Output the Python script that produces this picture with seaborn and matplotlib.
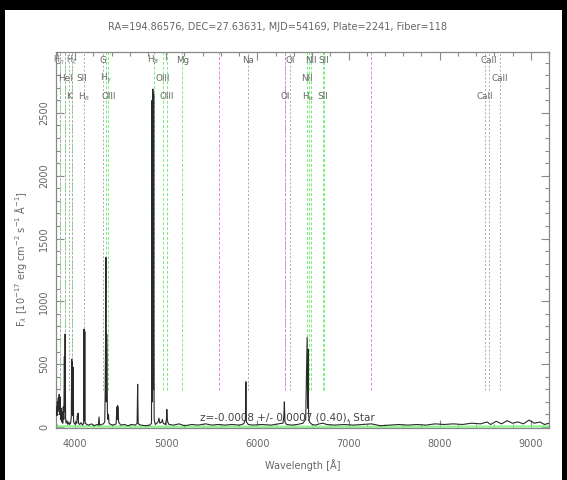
import matplotlib
matplotlib.use("Agg")
import matplotlib.pyplot as plt
import matplotlib.patches as mpatches
from matplotlib.ticker import MultipleLocator
import seaborn as sns
import pandas as pd

# ---------------- data ----------------
wave = [3790, 3795, 3800, 3805, 3810, 3815, 3820, 3825, 3830, 3835, 3840, 3846, 3852, 3858,
        3864, 3870, 3876, 3882, 3886, 3890, 3895, 3900, 3910, 3920, 3930, 3940, 3950, 3958,
        3962, 3966, 3970, 3974, 3978, 3983, 3992, 4000, 4010, 4018, 4024, 4028, 4032, 4037,
        4050, 4065, 4080, 4094, 4098, 4102, 4106, 4110, 4130, 4150, 4180, 4210, 4240, 4255,
        4262, 4268, 4290, 4310, 4325, 4330, 4334, 4338, 4342, 4346, 4350, 4354, 4360, 4366,
        4372, 4390, 4420, 4450, 4458, 4463, 4467, 4472, 4477, 4500, 4540, 4580, 4620, 4660,
        4680, 4686, 4692, 4720, 4780, 4820, 4838, 4844, 4849, 4853, 4858, 4862, 4867, 4880,
        4910, 4920, 4930, 4950, 4958, 4966, 4990, 5002, 5006, 5011, 5016, 5030, 5080, 5140,
        5200, 5280, 5350, 5430, 5500, 5570, 5650, 5720, 5800, 5850, 5868, 5874, 5880, 5900,
        5950, 6050, 6150, 6230, 6280, 6290, 6296, 6302, 6320, 6380, 6440, 6500, 6530, 6546,
        6551, 6556, 6562, 6570, 6600, 6640, 6680, 6720, 6760, 6850, 6950, 7050, 7150, 7250,
        7350, 7450, 7550, 7650, 7750, 7850, 7950, 8050, 8150, 8250, 8350, 8450, 8520, 8560,
        8620, 8680, 8740, 8800, 8860, 8920, 8980, 9040, 9100, 9150, 9200]
flux = [110, 160, 90, 200, 120, 230, 140, 260, 100, 240, 60, 150, 40, 120,
        30, 160, 60, 560, 120, 740, 80, 30, 50, 20, 40, 20, 30, 80,
        540, 100, 520, 90, 476, 40, 30, 20, 40, 30, 90, 60, 110, 30,
        20, 35, 15, 30, 780, 50, 760, 30, 20, 15, 25, 10, 20, 15,
        80, 15, 20, 25, 40, 300, 700, 1350, 200, 740, 560, 120, 60, 100,
        30, 20, 15, 25, 160, 60, 170, 150, 40, 15, 20, 10, 20, 15,
        30, 340, 25, 15, 10, 15, 30, 2600, 200, 2690, 300, 2650, 60, 20,
        40, 70, 30, 40, 60, 30, 20, 60, 140, 70, 40, 20, 15, 25,
        10, 20, 15, 25, 15, 20, 15, 20, 15, 25, 60, 360, 40, 20,
        15, 20, 15, 25, 30, 80, 200, 40, 20, 15, 20, 30, 60, 714,
        150, 620, 100, 40, 20, 15, 25, 30, 20, 15, 20, 15, 20, 25,
        10, 15, 20, 15, 20, 15, 25, 20, 25, 20, 30, 25, 40, 20,
        45, 25, 50, 30, 40, 25, 55, 30, 40, 20, 30]

err_wave = [3790, 4500, 5500, 6500, 7500, 8500, 9200]
err_flux = [6, 3, 2, 2, 2, 3, 5]

# spectral line markers
emis_waves = [3835, 3889, 3970, 4340, 4363, 4861, 4959, 5007, 5175,
              6548, 6563, 6583, 6716, 6731]
abs_waves = [3835, 3889, 3934, 3970, 4102, 4304, 5894, 6300, 6363,
             8498, 8542, 8662]
sky_waves = [5577, 6300, 7250]

label_waves = [3835, 3889, 4304, 4861, 5175, 5894, 6363, 6583, 6731, 8542,
               3889, 4072, 4340, 4959, 6548, 8662,
               3934, 4102, 4363, 5007, 6300, 6563, 6716, 8498]
label_texts = [r"H$_\eta$", r"H$_\zeta$", "G", r"H$_\beta$", "Mg", "Na", "OI", "NII", "SII", "CaII",
               "HeI", "SII", r"H$_\gamma$", "OIII", "NII", "CaII",
               "K", r"H$_\delta$", "OIII", "OIII", "OI", r"H$_\alpha$", "SII", "CaII"]
label_rows = [0, 0, 0, 0, 0, 0, 0, 0, 0, 0,
              1, 1, 1, 1, 1, 1,
              2, 2, 2, 2, 2, 2, 2, 2]

title = "RA=194.86576, DEC=27.63631, MJD=54169, Plate=2241, Fiber=118"
ztext = "z=-0.0008 +/- 0.0007 (0.40), Star"
xlabel = "Wavelength [Å]"
ylabel = r"F$_\lambda$ [10$^{-17}$ erg cm$^{-2}$ s$^{-1}$ Å$^{-1}$]"

# ---------------- plot ----------------
sns.set_style("ticks")
plt.rcParams['font.family'] = ['DejaVu Sans']
txtc = "#666666"

fig = plt.figure(figsize=(5.67, 4.8), dpi=100)
fig.patch.set_facecolor("black")
fig.patches.append(mpatches.Rectangle((5 / 567, 0), 557 / 567, 470 / 480,
                                      transform=fig.transFigure, facecolor="white",
                                      edgecolor="none", zorder=-5))
ax = fig.add_axes([56 / 567, 52 / 480, 493 / 567, 376 / 480])
ax.set_facecolor("white")

for w in emis_waves:
    ax.axvline(w, ymin=0.1, ymax=1, color="#77ee77", ls=(0, (3, 2)), lw=0.7, zorder=1)
for w in abs_waves:
    ax.axvline(w, ymin=0.1, ymax=1, color="#aaaaaa", ls=(0, (2, 2)), lw=0.7, zorder=1)
for w in sky_waves:
    ax.axvline(w, ymin=0.1, ymax=1, color="#f07af0", ls=(0, (3, 2)), lw=0.7, zorder=1)

df = pd.DataFrame({"wave": wave, "flux": flux})
dfe = pd.DataFrame({"wave": err_wave, "flux": err_flux})
sns.lineplot(data=dfe, x="wave", y="flux", ax=ax, color="#8cf58c", lw=1.6,
             estimator=None, sort=False, zorder=2)
sns.lineplot(data=df, x="wave", y="flux", ax=ax, color="#2a2a2a", lw=0.8,
             estimator=None, sort=False, zorder=3)

row_y = [0.978, 0.930, 0.882]
for i, (w, t, r) in enumerate(zip(label_waves, label_texts, label_rows)):
    ha, dx, fs = "center", 0, 6.3
    if i == 0:
        ha, dx, fs = "right", 3.0, 5.8
    elif i == 1:
        ha, dx, fs = "left", 0.8, 5.8
    elif i == 10:
        ha, dx = "center", 0.5
    ax.annotate(t, (w, row_y[r]), xycoords=ax.get_xaxis_transform(),
                xytext=(dx, 0), textcoords="offset points",
                ha=ha, va="center", fontsize=fs, color=txtc, zorder=4)

ax.text(5370, 35, ztext, fontsize=7.5, color="#444444", ha="left", va="bottom", zorder=5)

ax.set_xlim(3790, 9200)
ax.set_ylim(-8, 2985)
ax.xaxis.set_major_locator(MultipleLocator(1000))
ax.xaxis.set_minor_locator(MultipleLocator(200))
ax.yaxis.set_major_locator(MultipleLocator(500))
ax.yaxis.set_minor_locator(MultipleLocator(100))
ax.tick_params(which="both", direction="in", top=True, right=True, colors="#888888",
               labelcolor=txtc, labelsize=7, width=0.8)
ax.tick_params(which="major", length=6)
ax.tick_params(which="minor", length=3)
ax.tick_params(axis="x", pad=8)
ax.tick_params(axis="y", pad=5)
for lab in ax.get_yticklabels():
    lab.set_rotation(90)
    lab.set_va("center")
for s in ax.spines.values():
    s.set_color("#888888")
    s.set_linewidth(0.9)

ax.set_xlabel(xlabel, fontsize=7, color=txtc, labelpad=7)
ax.set_ylabel(ylabel, fontsize=7, color=txtc, labelpad=6)
ax.yaxis.set_label_coords(-0.055, 0.45)
fig.text(0.49, 0.944, title, ha="center", va="center", fontsize=7, color=txtc)

fig.savefig("out.png", dpi=100, facecolor=fig.get_facecolor())
